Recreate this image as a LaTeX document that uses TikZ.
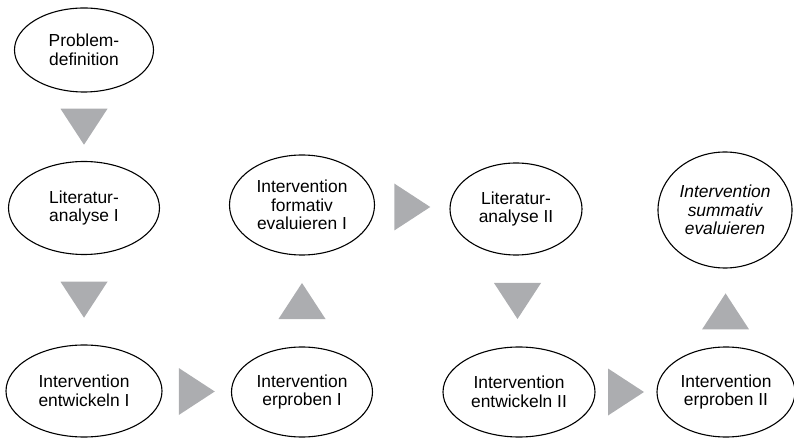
\documentclass[tikz,border=0pt]{standalone}
\usepackage{fontspec}
\setmainfont{Liberation Sans}
\usetikzlibrary{calc,shapes.geometric,positioning}
\definecolor{arrowgrey}{RGB}{172,173,176}

% grey triangles between the phases
\newcommand{\tridown}[1]{\fill[arrowgrey] (#1) +(-23.5,18) -- +(23.5,18) -- +(0,-18) -- cycle;}
\newcommand{\triup}[1]{\fill[arrowgrey] (#1) +(-23.5,-18) -- +(23.5,-18) -- +(0,18) -- cycle;}
\newcommand{\triright}[1]{\fill[arrowgrey] (#1) +(-18,23.5) -- +(-18,-23.5) -- +(18,0) -- cycle;}

\begin{document}
\begin{tikzpicture}[x=1pt,y=1pt]

\tikzset{phase/.style={shape=ellipse,draw=black,line width=1.1pt,inner sep=0pt,align=center,font=\fontsize{17.4}{18.6}\selectfont}}

\useasboundingbox (0,0) rectangle (794,439);

% Phases
\node[phase,minimum width=139,minimum height=84] (prob) at (84,389) {Problem-\\definition};
\node[phase,minimum width=151,minimum height=93] (litA) at (84,231) {Literatur-\\analyse I};
\node[phase,minimum width=145,minimum height=100] (formA) at (302,234) {Intervention\\formativ\\evaluieren I};
\node[phase,minimum width=132,minimum height=92] (litB) at (516,230) {Literatur-\\analyse II};
\node[phase,minimum width=134,minimum height=116] (summ) at (725,229) {\itshape Intervention\\\itshape summativ\\\itshape evaluieren};
\node[phase,minimum width=156,minimum height=92] (entA) at (84,48) {Intervention\\entwickeln I};
\node[phase,minimum width=141,minimum height=90] (erpA) at (302,47) {Intervention\\erproben I};
\node[phase,minimum width=152,minimum height=90] (entB) at (519,47) {Intervention\\entwickeln II};
\node[phase,minimum width=138,minimum height=90] (erpB) at (726,47) {Intervention\\erproben II};

% Triangles
\coordinate (t1) at ($(prob.south)!.5!(litA.north)$);
\coordinate (t2) at ($(litA.south)!.5!(entA.north)$);
\coordinate (t3) at ($(entA.east)!.5!(erpA.west)$);
\coordinate (t4) at ($(erpA.north)!.5!(formA.south)$);
\coordinate (t5) at ($(formA.east)!.5!(litB.west)$);
\coordinate (t6) at ($(litB.south)!.5!(entB.north)$);
\coordinate (t7) at ($(entB.east)!.5!(erpB.west)$);
\coordinate (t8) at ($(erpB.north)!.45!(summ.south)$);

\tridown{t1} \tridown{t2} \tridown{t6}
\triright{t3} \triright{t5} \triright{t7}
\triup{t4} \triup{t8}

\end{tikzpicture}
\end{document}
